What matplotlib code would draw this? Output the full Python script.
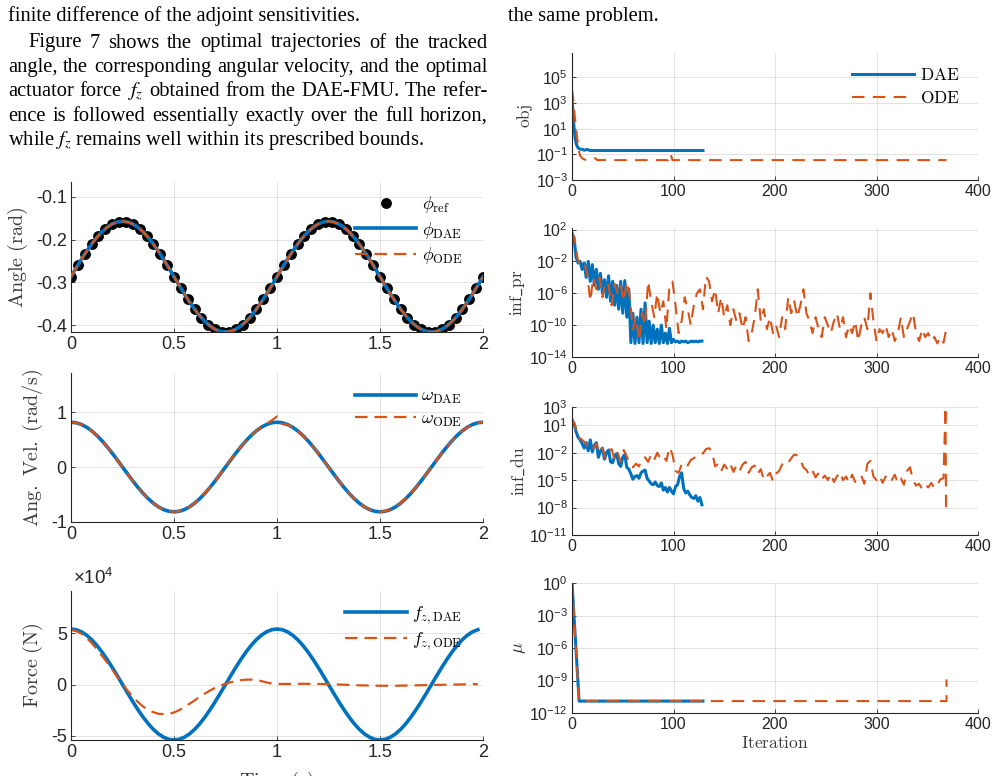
import numpy as np
import matplotlib
matplotlib.use('Agg')
import matplotlib.pyplot as plt
from matplotlib.ticker import FuncFormatter, NullLocator

plt.rcParams['font.family'] = ['Liberation Sans', 'DejaVu Sans']
plt.rcParams['mathtext.fontset'] = 'cm'
plt.rcParams['axes.unicode_minus'] = False
plt.rcParams['lines.scale_dashes'] = False

BLUE = '#0072BD'
ORANGE = '#D95319'
DARK = '#262626'
LABEL = '#3a3a3a'

# ---------------- data: left column (time histories) ----------------
time_ref = np.linspace(0.0, 2.0, 61)
phi_ref = [-0.2865, -0.2596, -0.2338, -0.2104, -0.1903, -0.1744, -0.1633, -0.1577, -0.1577, -0.1633,
           -0.1744, -0.1903, -0.2104, -0.2338, -0.2596, -0.2865, -0.3134, -0.3392, -0.3626, -0.3827,
           -0.3986, -0.4097, -0.4153, -0.4153, -0.4097, -0.3986, -0.3827, -0.3626, -0.3392, -0.3134,
           -0.2865, -0.2596, -0.2338, -0.2104, -0.1903, -0.1744, -0.1633, -0.1577, -0.1577, -0.1633,
           -0.1744, -0.1903, -0.2104, -0.2338, -0.2596, -0.2865, -0.3134, -0.3392, -0.3626, -0.3827,
           -0.3986, -0.4097, -0.4153, -0.4153, -0.4097, -0.3986, -0.3827, -0.3626, -0.3392, -0.3134,
           -0.2865]

time = np.linspace(0.0, 2.0, 81)
phi_dae = [-0.2865, -0.2662, -0.2465, -0.2277, -0.2104, -0.1949, -0.1817, -0.1711, -0.1633, -0.1586,
           -0.1570, -0.1586, -0.1633, -0.1711, -0.1817, -0.1949, -0.2104, -0.2277, -0.2465, -0.2662,
           -0.2865, -0.3068, -0.3265, -0.3453, -0.3626, -0.3781, -0.3913, -0.4019, -0.4097, -0.4144,
           -0.4160, -0.4144, -0.4097, -0.4019, -0.3913, -0.3781, -0.3626, -0.3453, -0.3265, -0.3068,
           -0.2865, -0.2662, -0.2465, -0.2277, -0.2104, -0.1949, -0.1817, -0.1711, -0.1633, -0.1586,
           -0.1570, -0.1586, -0.1633, -0.1711, -0.1817, -0.1949, -0.2104, -0.2277, -0.2465, -0.2662,
           -0.2865, -0.3068, -0.3265, -0.3453, -0.3626, -0.3781, -0.3913, -0.4019, -0.4097, -0.4144,
           -0.4160, -0.4144, -0.4097, -0.4019, -0.3913, -0.3781, -0.3626, -0.3453, -0.3265, -0.3068,
           -0.2865]
phi_ode = list(phi_dae)

omega_dae = [0.815, 0.805, 0.775, 0.726, 0.659, 0.576, 0.479, 0.370, 0.252, 0.127,
             0.000, -0.127, -0.252, -0.370, -0.479, -0.576, -0.659, -0.726, -0.775, -0.805,
             -0.815, -0.805, -0.775, -0.726, -0.659, -0.576, -0.479, -0.370, -0.252, -0.127,
             0.000, 0.127, 0.252, 0.370, 0.479, 0.576, 0.659, 0.726, 0.775, 0.805,
             0.815, 0.805, 0.775, 0.726, 0.659, 0.576, 0.479, 0.370, 0.252, 0.127,
             0.000, -0.127, -0.252, -0.370, -0.479, -0.576, -0.659, -0.726, -0.775, -0.805,
             -0.815, -0.805, -0.775, -0.726, -0.659, -0.576, -0.479, -0.370, -0.252, -0.127,
             0.000, 0.127, 0.252, 0.370, 0.479, 0.576, 0.659, 0.726, 0.775, 0.805,
             0.815]
omega_ode = [0.815, 0.805, 0.775, 0.726, 0.659, 0.576, 0.479, 0.370, 0.252, 0.127,
             0.000, -0.127, -0.252, -0.370, -0.479, -0.576, -0.659, -0.726, -0.775, -0.805,
             -0.815, -0.805, -0.775, -0.726, -0.659, -0.576, -0.479, -0.370, -0.252, -0.127,
             0.000, 0.127, 0.252, 0.370, 0.479, 0.576, 0.659, 0.726, 0.790, 0.850,
             0.920, 0.780, 0.770, 0.726, 0.659, 0.576, 0.479, 0.370, 0.252, 0.127,
             0.000, -0.127, -0.252, -0.370, -0.479, -0.576, -0.659, -0.726, -0.775, -0.805,
             -0.815, -0.805, -0.775, -0.726, -0.659, -0.576, -0.479, -0.370, -0.252, -0.127,
             0.000, 0.127, 0.252, 0.370, 0.479, 0.576, 0.659, 0.726, 0.775, 0.805,
             0.815]

time_force = np.linspace(0.0, 1.975, 80)
force_dae = [54000, 53340, 51360, 48110, 43690, 38180, 31740, 24520, 16690, 8450,
             0, -8450, -16690, -24520, -31740, -38180, -43690, -48110, -51360, -53340,
             -54000, -53340, -51360, -48110, -43690, -38180, -31740, -24520, -16690, -8450,
             0, 8450, 16690, 24520, 31740, 38180, 43690, 48110, 51360, 53340,
             54000, 53340, 51360, 48110, 43690, 38180, 31740, 24520, 16690, 8450,
             0, -8450, -16690, -24520, -31740, -38180, -43690, -48110, -51360, -53340,
             -54000, -53340, -51360, -48110, -43690, -38180, -31740, -24520, -16690, -8450,
             0, 8450, 16690, 24520, 31740, 38180, 43690, 48110, 51360, 53340]
force_ode = [53000, 52000, 49500, 45500, 40500, 34500, 28000, 21500, 14500, 7500,
             500, -6000, -12000, -17000, -21500, -24500, -27000, -28500, -28800, -28500,
             -27200, -25000, -22000, -18800, -15500, -12000, -8800, -5800, -3200, -1000,
             800, 2200, 3300, 4200, 4700, 4800, 4300, 3300, 2000, 1000,
             500, 500, 600, 600, 700, 700, 700, 600, 600, 500,
             400, 200, 0, -200, -400, -600, -800, -900, -1000, -1100,
             -1200, -1200, -1200, -1200, -1100, -1000, -900, -800, -700, -600,
             -500, -400, -300, -200, -100, 0, 100, 200, 300, 400]

# ---------------- data: right column (IPOPT iteration history, log10 values) ----------------
dae_obj_iter = [0, 1, 2, 3, 4, 5, 6, 8, 10, 12, 15, 18, 20, 129]
dae_obj_log = [3.3, 2.2, 1.1, 0.3, -0.1, -0.35, -0.5, -0.6, -0.6, -0.68, -0.62, -0.7, -0.7, -0.7]
ode_obj_iter = [0, 1, 2, 3, 4, 5, 6, 7, 8, 10, 12, 15, 20, 23, 25, 95, 97, 99, 369]
ode_obj_log = [4.1, 3.5, 2.6, 1.8, 1.0, 0.4, -0.3, -0.8, -1.1, -1.3, -1.4, -1.45, -1.4, -1.3,
               -1.45, -1.45, -0.95, -1.45, -1.45]

dae_iter = np.arange(0, 129, 2)          # every 2nd iteration, 0..128
ode_iter = np.arange(0, 370, 3)          # every 3rd iteration, 0..369

dae_inf_pr_log = [1.5, 1.0, -1.5, -2.2, -2.0, -3.0, -2.2, -4.0, -2.0, -4.5,
                  -2.4, -5.0, -3.0, -5.5, -3.5, -6.0, -4.3, -6.5, -3.8, -7.0,
                  -4.5, -7.5, -5.0, -8.0, -4.5, -8.5, -4.4, -9.0, -5.5, -12.2,
                  -8.5, -12.3, -9.0, -12.2, -8.0, -12.3, -7.2, -12.2, -9.5, -12.3,
                  -10.0, -12.2, -10.5, -12.3, -10.0, -12.2, -11.0, -12.3, -10.4, -12.2,
                  -11.8, -12.1, -12.0, -12.2, -12.0, -12.1, -12.0, -12.2, -12.1, -12.0,
                  -12.1, -12.0, -12.1, -12.0, -12.0]
ode_inf_pr_log = [1.8, 0.5, -2.0, -2.5, -2.2, -3.5, -7.0, -4.0, -5.5, -4.0,
                  -6.5, -4.5, -5.0, -7.5, -4.8, -6.0, -5.0, -7.0, -4.5, -6.5,
                  -10.5, -9.0, -12.0, -8.5, -10.0, -4.5, -7.0, -9.0, -6.0, -8.5,
                  -7.0, -10.5, -5.0, -4.5, -7.5, -11.0, -9.5, -6.5, -8.0, -10.0,
                  -7.5, -6.0, -5.5, -8.0, -3.9, -4.5, -7.0, -5.5, -8.5, -6.5,
                  -9.0, -7.5, -10.0, -8.0, -9.5, -8.5, -10.5, -9.0, -12.0, -11.0,
                  -9.0, -5.5, -9.5, -8.0, -10.5, -9.0, -11.0, -10.0, -11.5, -9.0,
                  -10.5, -6.5, -8.5, -7.0, -9.0, -7.5, -5.5, -8.5, -9.5, -11.0,
                  -9.0, -10.5, -11.5, -9.0, -10.0, -11.0, -9.5, -8.5, -10.5, -9.0,
                  -11.5, -10.0, -11.0, -9.5, -12.0, -10.0, -9.0, -10.5, -6.0, -9.5,
                  -12.0, -10.5, -11.0, -10.0, -11.5, -10.5, -12.0, -11.0, -9.0, -11.5,
                  -10.5, -9.5, -8.5, -11.0, -12.0, -10.5, -11.5, -11.0, -12.0, -11.5,
                  -12.3, -11.5, -12.2, -10.3]

dae_inf_du_log = [1.5, 1.2, 0.3, -0.3, -0.6, -1.0, -1.5, -0.9, -1.8, -0.6,
                  -1.9, -1.2, -0.9, -2.5, -1.8, -1.5, -2.7, -2.0, -1.7, -3.0,
                  -3.1, -2.4, -2.1, -3.2, -3.5, -2.5, -2.2, -3.6, -3.8, -4.3,
                  -4.9, -4.6, -4.5, -4.8, -4.2, -4.0, -3.9, -4.8, -5.1, -5.4,
                  -5.5, -5.2, -5.6, -5.7, -5.3, -6.1, -5.8, -6.3, -5.8, -6.2,
                  -6.5, -5.7, -5.5, -4.6, -4.2, -5.9, -6.4, -6.2, -6.6, -6.9,
                  -7.0, -6.7, -7.3, -6.9, -7.7]
ode_inf_du_iter = np.arange(0, 367, 3)   # 0..366
ode_inf_du_log = [1.8, 1.0, -0.3, -0.5, -0.8, -1.2, -0.9, -1.5, -1.0, -2.0,
                  -1.5, -2.6, -1.8, -1.6, -2.8, -2.0, -3.0, -1.7, -2.4, -3.3,
                  -3.6, -3.2, -3.5, -2.6, -2.5, -3.0, -2.2, -2.8, -2.0, -2.6,
                  -2.3, -2.9, -1.4, -2.2, -4.0, -4.2, -3.3, -3.0, -3.4, -2.8,
                  -2.6, -2.3, -2.0, -2.1, -1.6, -1.5, -1.9, -3.5, -3.2, -4.0,
                  -3.3, -3.8, -3.2, -4.1, -3.4, -4.0, -3.3, -3.0, -4.2, -3.6,
                  -3.4, -4.3, -3.8, -5.0, -4.6, -4.2, -5.1, -4.3, -4.0, -3.3,
                  -2.9, -3.1, -2.6, -2.2, -2.3, -2.8, -3.6, -3.9, -4.5, -4.0,
                  -4.7, -4.2, -4.9, -4.5, -5.0, -4.3, -5.2, -4.6, -4.1, -5.0,
                  -4.6, -5.3, -4.4, -5.2, -4.7, -4.5, -5.4, -3.2, -2.9, -4.6,
                  -5.0, -4.5, -5.3, -4.6, -5.2, -5.0, -4.4, -5.3, -4.8, -5.5,
                  -4.0, -3.6, -5.0, -5.6, -5.4, -6.0, -5.5, -5.8, -5.3, -5.9,
                  -5.5, -4.9, -4.8]
ode_inf_du_tail_iter = [368, 368.5]
ode_inf_du_tail_log = [3.0, -8.3]

dae_mu_iter = [0, 7, 129]
dae_mu_log = [0.0, -10.9, -10.9]
ode_mu_iter = [0, 7, 369, 369]
ode_mu_log = [0.0, -10.9, -10.9, -8.9]

# ---------------- figure ----------------
W, H = 998, 776
fig = plt.figure(figsize=(W / 100, H / 100), dpi=100)


def px_axes(x0, y0, x1, y1):
    return fig.add_axes([x0 / W, 1 - y1 / H, (x1 - x0) / W, (y1 - y0) / H])


def style(ax, labelsize):
    for s in ['top', 'right']:
        ax.spines[s].set_visible(False)
    for s in ['left', 'bottom']:
        ax.spines[s].set_color(DARK)
        ax.spines[s].set_linewidth(0.8)
    ax.tick_params(direction='in', length=3, width=0.6, colors=DARK, labelsize=labelsize,
                   pad=3, top=False, right=False)
    ax.grid(True, color=DARK, alpha=0.15, lw=0.6)
    ax.set_axisbelow(True)


LW_B, LW_O = 2.6, 1.6
DASH = (9, 5)
leg_kw = dict(frameon=False, handlelength=3.4, handletextpad=0.3, borderpad=0,
              borderaxespad=0, labelspacing=0.25)

# Panel A: angle
axA = px_axes(71, 182, 483, 332)
axA.plot(time_ref, phi_ref, 'o', color='black', ms=6.8, label=r'$\phi_{\mathrm{ref}}$', zorder=2)
axA.plot(time, phi_dae, '-', color=BLUE, lw=LW_B, label=r'$\phi_{\mathrm{DAE}}$', zorder=3)
axA.plot(time, phi_ode, '--', color=ORANGE, lw=LW_O, dashes=DASH, label=r'$\phi_{\mathrm{ODE}}$', zorder=4)
axA.set_xlim(0, 2)
axA.set_ylim(-0.416, -0.065)
axA.set_xticks([0, 0.5, 1, 1.5, 2])
axA.set_yticks([-0.4, -0.3, -0.2, -0.1])
axA.xaxis.set_major_formatter(FuncFormatter(lambda v, p: '%g' % v))
axA.yaxis.set_major_formatter(FuncFormatter(lambda v, p: '%g' % v))
style(axA, 13)
axA.set_ylabel(r'$\mathrm{Angle\ (rad)}$', fontsize=14.5, color=LABEL)
axA.yaxis.set_label_coords(-0.100, 0.5)
axA.legend(loc='upper right', bbox_to_anchor=(0.95, 0.92), fontsize=13, numpoints=1,
           markerscale=1.0, **leg_kw)

# Panel B: angular velocity
axB = px_axes(71, 373, 483, 522)
axB.plot(time, omega_dae, '-', color=BLUE, lw=LW_B, label=r'$\omega_{\mathrm{DAE}}$')
axB.plot(time, omega_ode, '--', color=ORANGE, lw=LW_O, dashes=DASH, label=r'$\omega_{\mathrm{ODE}}$')
axB.set_xlim(0, 2)
axB.set_ylim(-1, 1.71)
axB.set_xticks([0, 0.5, 1, 1.5, 2])
axB.set_yticks([-1, 0, 1])
axB.xaxis.set_major_formatter(FuncFormatter(lambda v, p: '%g' % v))
axB.yaxis.set_major_formatter(FuncFormatter(lambda v, p: '%g' % v))
style(axB, 13)
axB.set_ylabel(r'$\mathrm{Ang.\ Vel.\ (rad/s)}$', fontsize=14.5, color=LABEL)
axB.yaxis.set_label_coords(-0.064, 0.5)
axB.legend(loc='upper right', bbox_to_anchor=(0.95, 0.90), fontsize=13, **leg_kw)

# Panel C: force
axC = px_axes(71, 591, 483, 740)
axC.plot(time_force, force_dae, '-', color=BLUE, lw=LW_B, label=r'$f_{z,\mathrm{DAE}}$')
axC.plot(time_force, force_ode, '--', color=ORANGE, lw=LW_O, dashes=DASH, label=r'$f_{z,\mathrm{ODE}}$')
axC.set_xlim(0, 2)
axC.set_ylim(-54000, 91000)
axC.set_xticks([0, 0.5, 1, 1.5, 2])
axC.set_yticks([-50000, 0, 50000])
axC.xaxis.set_major_formatter(FuncFormatter(lambda v, p: '%g' % v))
axC.yaxis.set_major_formatter(FuncFormatter(lambda v, p: '%g' % (v / 1e4)))
style(axC, 13)
axC.set_ylabel(r'$\mathrm{Force\ (N)}$', fontsize=14.5, color=LABEL)
axC.yaxis.set_label_coords(-0.064, 0.5)
axC.legend(loc='upper right', bbox_to_anchor=(0.95, 0.91), fontsize=13, **leg_kw)
fig.text(73 / W, 1 - 578 / H, r'$\mathregular{\times10^{4}}$', fontsize=13.5, color=DARK,
         ha='left', va='center', math_fontfamily='dejavusans')
fig.text(277 / W, 1 - 770 / H, r'$\mathrm{Time\ (s)}$', fontsize=14.5, color=LABEL,
         ha='center', va='top')


# right column helpers
def log_axes(ax, ylo, yhi, ticks):
    ax.set_yscale('log')
    ax.set_xlim(0, 400)
    ax.set_ylim(10.0 ** ylo, 10.0 ** yhi)
    ax.set_xticks([0, 100, 200, 300, 400])
    ax.set_yticks([10.0 ** k for k in ticks])
    ax.set_yticklabels([r'$\mathregular{10^{%d}}$' % k for k in ticks])
    ax.yaxis.set_minor_locator(NullLocator())
    ax.xaxis.set_major_formatter(FuncFormatter(lambda v, p: '%g' % v))
    style(ax, 11.5)


def p10(vals):
    return [10.0 ** v for v in vals]


LWR_B, LWR_O = 2.2, 1.5
DASHR = (9, 6)

# R1: objective
axR1 = px_axes(572, 53, 978, 180)
axR1.plot(dae_obj_iter, p10(dae_obj_log), '-', color=BLUE, lw=LWR_B, label=r'$\mathrm{DAE}$')
axR1.plot(ode_obj_iter, p10(ode_obj_log), '--', color=ORANGE, lw=LWR_O, dashes=DASHR, label=r'$\mathrm{ODE}$')
log_axes(axR1, -3, 6.9, [-3, -1, 1, 3, 5])
axR1.set_ylabel(r'$\mathrm{obj}$', fontsize=12.5, color=LABEL)
axR1.yaxis.set_label_coords(-0.092, 0.5)
axR1.legend(loc='upper right', bbox_to_anchor=(0.955, 0.89), fontsize=12.5,
            **dict(leg_kw, handlelength=3.6, labelspacing=0.4))

# R2: inf_pr
axR2 = px_axes(572, 228, 978, 357)
axR2.plot(dae_iter, p10(dae_inf_pr_log), '-', color=BLUE, lw=LWR_B)
axR2.plot(ode_iter, p10(ode_inf_pr_log), '--', color=ORANGE, lw=LWR_O, dashes=DASHR)
log_axes(axR2, -14, 2.2, [-14, -10, -6, -2, 2])
axR2.set_ylabel(r'$\mathrm{inf\_pr}$', fontsize=12.5, color=LABEL)
axR2.yaxis.set_label_coords(-0.112, 0.5)

# R3: inf_du
axR3 = px_axes(572, 407, 978, 535)
axR3.plot(dae_iter, p10(dae_inf_du_log), '-', color=BLUE, lw=LWR_B)
axR3.plot(list(ode_inf_du_iter) + ode_inf_du_tail_iter,
          p10(ode_inf_du_log + ode_inf_du_tail_log), '--', color=ORANGE, lw=LWR_O, dashes=DASHR)
log_axes(axR3, -11, 3, [-11, -8, -5, -2, 1, 3])
axR3.set_ylabel(r'$\mathrm{inf\_du}$', fontsize=12.5, color=LABEL)
axR3.yaxis.set_label_coords(-0.112, 0.5)

# R4: mu
axR4 = px_axes(572, 583, 978, 713)
axR4.plot(dae_mu_iter, p10(dae_mu_log), '-', color=BLUE, lw=LWR_B)
axR4.plot(ode_mu_iter, p10(ode_mu_log), '--', color=ORANGE, lw=LWR_O, dashes=DASHR)
log_axes(axR4, -12, 0, [-12, -9, -6, -3, 0])
axR4.set_ylabel(r'$\mu$', fontsize=13, color=LABEL)
axR4.yaxis.set_label_coords(-0.108, 0.5)
axR4.set_xlabel(r'$\mathrm{Iteration}$', fontsize=12.5, color=LABEL, labelpad=2)

# ---------------- surrounding paper text ----------------
renderer = fig.canvas.get_renderer()
probe = fig.text(0, 0, "finite difference of the adjoint sensitivities.",
                 family='Liberation Serif', fontsize=14)
w14 = probe.get_window_extent(renderer).width
probe.remove()
FS = 14 * 354.0 / w14
TXT = dict(family='Liberation Serif', fontsize=FS, color='black', va='baseline',
           math_fontfamily='stix')


def left_line(s, x, y):
    fig.text(x / W, 1 - y / H, s, ha='left', **TXT)


def justified_line(s, x0, x1, y):
    words = s.split(' ')
    objs = [fig.text(0, 1 - y / H, w, ha='left', **TXT) for w in words]
    widths = [o.get_window_extent(renderer).width for o in objs]
    gap = (x1 - x0 - sum(widths)) / (len(words) - 1)
    x = x0
    for o, w in zip(objs, widths):
        o.set_x(x / W)
        x += w + gap


left_line("finite difference of the adjoint sensitivities.", 8, 21)
justified_line("Figure 7 shows the optimal trajectories of the tracked", 28, 488, 47.5)
justified_line("angle, the corresponding angular velocity, and the optimal", 8, 488, 72)
justified_line("actuator force $f_z$ obtained from the DAE-FMU. The refer-", 8, 488, 96.5)
justified_line("ence is followed essentially exactly over the full horizon,", 8, 488, 121)
left_line("while $f_z$ remains well within its prescribed bounds.", 8, 145.5)
left_line("the same problem.", 508, 21)

fig.savefig('out.png', dpi=100)
